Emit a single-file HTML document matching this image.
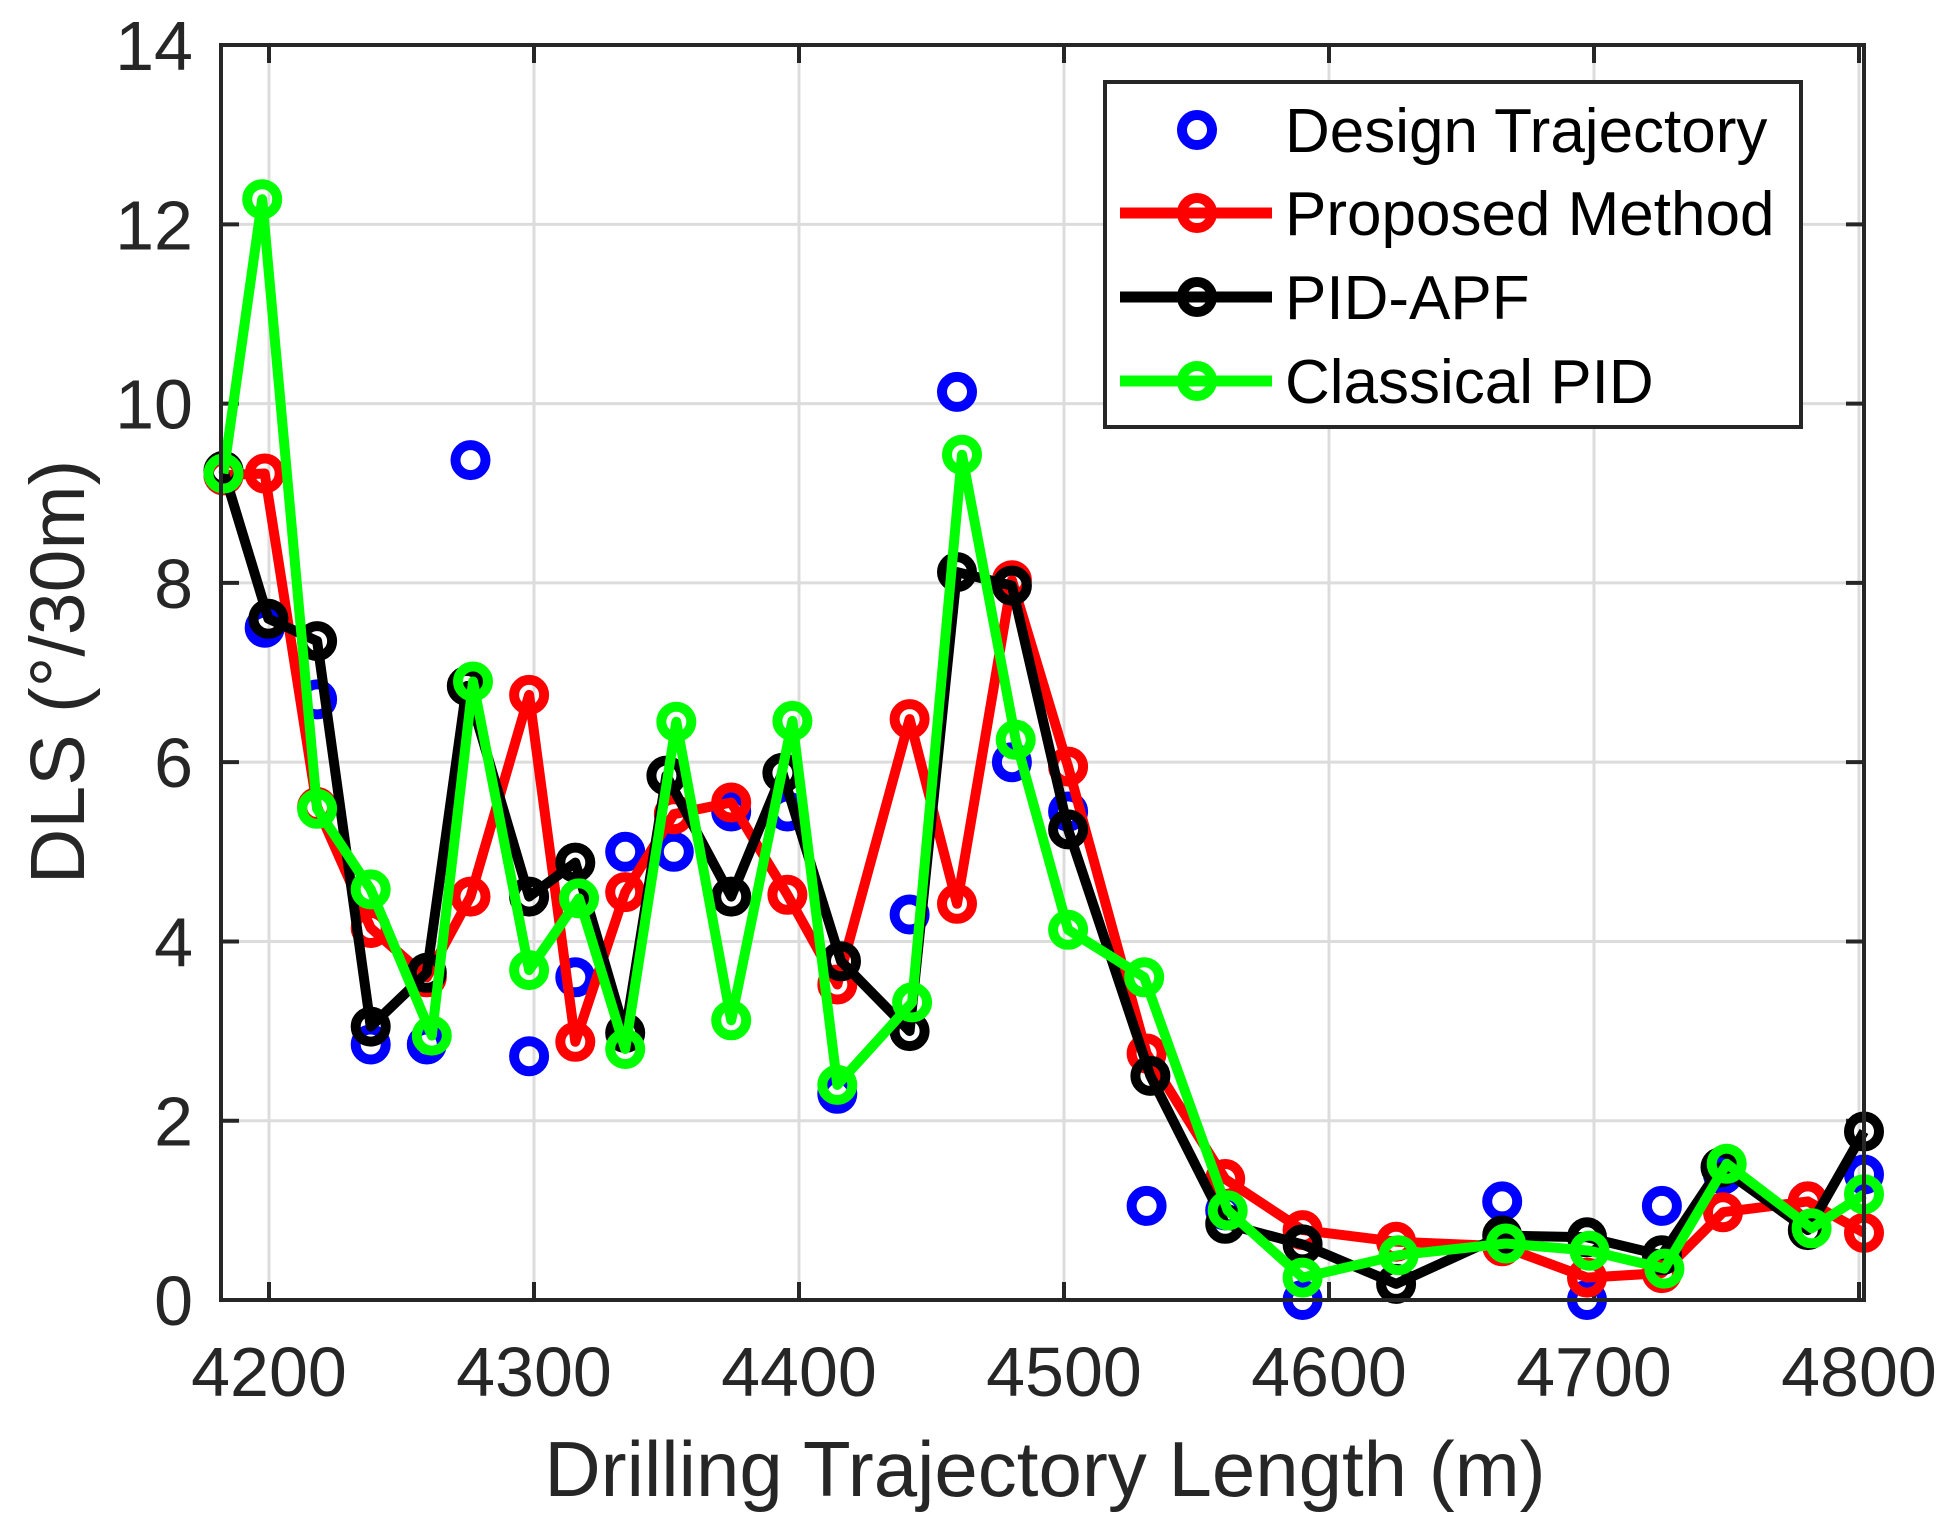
<!DOCTYPE html>
<html><head><meta charset="utf-8"><style>
html,body{margin:0;padding:0;background:#fff;}
svg{display:block;}
text{font-family:"Liberation Sans",Arial,sans-serif;}
</style></head><body>
<svg id="s" width="1953" height="1531" viewBox="0 0 1953 1531" xmlns="http://www.w3.org/2000/svg">
<rect width="1953" height="1531" fill="#fff"/>
<g id="grid" stroke="#dcdcdc" stroke-width="3"></g>
<g id="ticks" stroke="#262626" stroke-width="4"></g>
<g id="data"></g>
<rect x="221" y="45" width="1643" height="1255" fill="none" stroke="#262626" stroke-width="4"/>
<g id="lab" fill="#262626" font-size="70"></g>
<text x="1045" y="1496" font-size="78" fill="#262626" text-anchor="middle">Drilling Trajectory Length (m)</text>
<text transform="translate(84,672) rotate(-90)" font-size="77" fill="#262626" text-anchor="middle">DLS (°/30m)</text>
<g id="leg">
<rect x="1105" y="82" width="696" height="345" fill="#fff" stroke="#262626" stroke-width="4"/>
<circle cx="1197" cy="130" r="15" fill="none" stroke="#0000ff" stroke-width="10"/>
<line x1="1120" y1="213" x2="1272" y2="213" stroke="#ff0000" stroke-width="11"/>
<circle cx="1197" cy="213" r="15" fill="none" stroke="#ff0000" stroke-width="10"/>
<line x1="1120" y1="297" x2="1272" y2="297" stroke="#000" stroke-width="11"/>
<circle cx="1197" cy="297" r="15" fill="none" stroke="#000" stroke-width="10"/>
<line x1="1120" y1="381" x2="1272" y2="381" stroke="#00ff00" stroke-width="11"/>
<circle cx="1197" cy="381" r="15" fill="none" stroke="#00ff00" stroke-width="10"/>
<text x="1285" y="152" font-size="62" fill="#000">Design Trajectory</text>
<text x="1285" y="235" font-size="62" fill="#000">Proposed Method</text>
<text x="1285" y="319" font-size="62" fill="#000">PID-APF</text>
<text x="1285" y="403" font-size="62" fill="#000">Classical PID</text>
</g>
</svg>
<script>
var NS="http://www.w3.org/2000/svg";
function el(p,t,a){var e=document.createElementNS(NS,t);for(var k in a)e.setAttribute(k,a[k]);p.appendChild(e);return e;}
var g=document.getElementById('grid'),tk=document.getElementById('ticks'),lb=document.getElementById('lab');
function X(v){return 269+(v-4200)*2.65;}
function Yv(v){return 1300-v*89.64;}
for(var v=4200;v<=4800;v+=100){var x=X(v);el(g,'line',{x1:x,y1:45,x2:x,y2:1300});
el(tk,'line',{x1:x,y1:1300,x2:x,y2:1282});el(tk,'line',{x1:x,y1:45,x2:x,y2:63});
var t=el(lb,'text',{x:x,y:1396,'text-anchor':'middle'});t.textContent=v;}
for(var v=0;v<=14;v+=2){var y=Yv(v);if(v>0&&v<14)el(g,'line',{x1:221,y1:y,x2:1864,y2:y});
el(tk,'line',{x1:221,y1:y,x2:239,y2:y});el(tk,'line',{x1:1864,y1:y,x2:1846,y2:y});
var t=el(lb,'text',{x:193,y:y+25,'text-anchor':'end'});t.textContent=v;}
function px(dx){return 221+(dx-178)*1.2475;}
var blue=[[180,9.2],[213,7.5],[255,6.7],[298,2.85],[343,2.85],[378,9.37],[425,2.72],[462,3.6],[502,5.0],[541,5.0],[587,5.45],[632,5.45],[672,2.3],[730,4.3],[768,10.13],[812,6.0],[857,5.45],[920,1.05],[983,1.0],[1045,0.0],[1205,1.1],[1273,0.0],[1333,1.05],[1382,1.4],[1450,1.1],[1495,1.4]];
var red=[[180,9.2],[213,9.22],[255,5.5],[298,4.15],[343,3.6],[378,4.5],[425,6.75],[462,2.88],[502,4.55],[541,5.42],[587,5.55],[632,4.52],[672,3.52],[730,6.48],[768,4.42],[812,8.03],[857,5.95],[920,2.75],[983,1.35],[1045,0.78],[1120,0.65],[1205,0.6],[1273,0.25],[1333,0.3],[1382,0.98],[1450,1.1],[1495,0.75]];
var black=[[180,9.25],[216,7.6],[255,7.35],[298,3.05],[343,3.65],[375,6.85],[425,4.5],[462,4.88],[502,2.98],[535,5.85],[587,4.5],[628,5.88],[675,3.78],[730,3.0],[768,8.12],[812,7.97],[857,5.25],[923,2.5],[983,0.85],[1045,0.62],[1120,0.18],[1205,0.72],[1273,0.7],[1333,0.5],[1380,1.48],[1450,0.78],[1495,1.88]];
var green=[[180,9.22],[211,12.28],[255,5.48],[298,4.58],[347,2.95],[380,6.9],[425,3.68],[465,4.48],[502,2.8],[543,6.45],[587,3.12],[636,6.46],[672,2.4],[732,3.32],[772,9.43],[815,6.25],[857,4.13],[918,3.6],[985,1.0],[1045,0.25],[1122,0.5],[1208,0.63],[1275,0.55],[1335,0.35],[1385,1.52],[1453,0.8],[1495,1.18]];
var d=document.getElementById('data');
function series(arr,col,line){
 var pts=arr.map(function(p){return [px(p[0]),Yv(p[1])];});
 if(line)el(d,'polyline',{points:pts.map(function(p){return p[0].toFixed(1)+','+p[1].toFixed(1);}).join(' '),fill:'none',stroke:col,'stroke-width':10,'stroke-linejoin':'round'});
 pts.forEach(function(p){el(d,'circle',{cx:p[0].toFixed(1),cy:p[1].toFixed(1),r:15,fill:'none',stroke:col,'stroke-width':10});});
}
series(blue,'#0000ff',false);
series(red,'#ff0000',true);
series(black,'#000000',true);
series(green,'#00ff00',true);
</script>
</body></html>
